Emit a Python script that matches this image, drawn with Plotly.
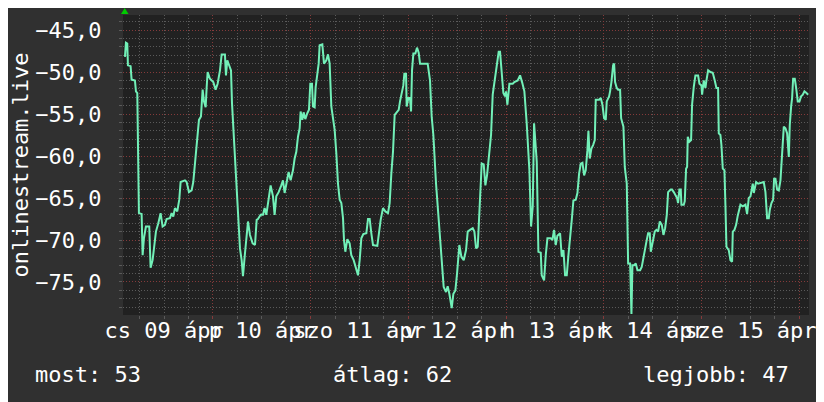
import pandas as pd
import plotly.graph_objects as go

# ---------------- data ----------------
START = pd.Timestamp("2020-04-09 00:00")

# hours after START
hours = [
    2.38, 2.62, 2.95, 3.11, 3.77, 4.01, 4.83, 5.08, 5.41, 5.57, 5.81, 6.47, 6.72, 7.04, 7.53, 8.35,
    8.68, 9.17, 9.58, 9.99, 10.57, 11.14, 11.63, 12.20, 12.61, 13.43, 13.84, 14.25, 14.66, 15.23,
    15.72, 16.05, 17.12, 17.53, 18.10, 18.75, 19.16, 19.57, 19.98, 20.56, 21.05, 21.46, 21.79,
    22.20, 22.44, 22.69, 23.26, 24.08, 24.65, 25.14, 25.72, 26.13, 26.94, 27.19, 27.52, 28.02,
    28.43, 28.67, 29.16, 29.65, 30.22, 30.63, 31.04, 31.37, 31.78, 32.11, 32.60, 33.09, 33.74,
    34.32, 34.73,
    35.05, 35.71, 36.28, 36.69, 37.10, 37.51, 38.16, 38.74, 39.14, 39.55, 40.13, 40.78, 41.19,
    41.60, 42.01, 42.58, 43.08, 43.65, 44.06, 44.47, 44.88, 45.29, 45.53, 45.94, 46.27, 46.68,
    47.17, 47.58, 47.91, 48.32, 48.56, 48.97, 49.22, 49.63, 49.96, 50.20, 50.86, 51.27, 51.84,
    52.25, 52.66, 53.07, 53.48, 53.89, 54.30, 54.71, 55.12, 55.53, 55.94, 56.18, 56.51, 57.00,
    57.57, 57.98, 58.56, 59.05, 59.62, 60.03, 60.44, 60.93, 61.67, 62.08, 62.49, 62.90, 63.31,
    64.37, 64.70, 65.19, 65.76, 66.34, 66.99, 67.40, 67.81, 68.22, 68.63,
    69.62, 69.94, 70.43, 70.76, 71.01, 71.42, 71.58, 71.99, 72.40, 72.65, 72.89, 73.22, 73.71,
    74.12, 74.53, 74.86, 76.74, 77.31, 77.72, 78.13, 78.79, 79.28, 79.77, 80.26, 80.67, 81.24,
    81.65, 82.06, 82.64, 83.05, 83.54, 83.95, 84.52, 85.01, 85.59, 86.16, 86.57, 87.14, 87.80,
    88.21, 88.62, 89.03, 89.60, 90.01, 90.50, 90.91, 91.32, 91.73, 92.30, 92.71, 93.12, 93.53,
    94.18, 94.51, 95.00, 95.33, 95.74, 95.99, 96.32, 96.81, 97.63, 98.03, 98.85, 99.43, 99.92,
    100.49, 101.06, 101.72, 102.13, 102.54,
    102.87, 103.53, 103.93, 104.51, 104.75, 105.33, 105.74, 106.15, 106.96, 107.37, 107.78,
    108.19, 108.60, 109.26, 109.67, 110.08, 110.49, 110.90, 111.31, 111.72, 112.13, 112.53,
    113.11, 113.52, 113.93, 114.34, 114.75, 115.16, 115.56, 115.97, 116.22, 116.55, 116.96,
    117.37, 117.78, 118.02, 118.84, 119.25, 119.66, 120.07, 120.48, 120.72, 121.30, 121.54,
    121.87, 122.28, 122.53, 122.77, 123.18, 123.51, 124.00, 124.25, 124.82, 125.15, 125.64,
    125.97, 126.46, 126.79, 127.03, 127.44, 127.85, 128.26, 128.91, 129.32, 129.73, 130.06,
    130.47, 130.88, 131.29, 131.54, 131.95, 132.52, 132.93, 133.34, 133.75, 134.24, 134.65,
    135.06, 135.47, 135.79, 136.45,
    136.77, 137.18, 137.59, 138.00, 138.24, 138.57, 138.90, 139.06, 139.64, 139.88, 140.21,
    140.46, 140.62, 141.03, 141.44, 141.68, 142.09, 142.50, 143.16, 143.49, 143.98, 144.14,
    144.55, 144.96, 145.21, 145.62, 146.19, 146.76, 147.25, 147.66, 148.07, 148.24, 148.64,
    148.89, 149.22, 149.63, 149.87, 150.12, 150.69, 151.10, 151.51, 151.68, 152.09, 152.50,
    152.90, 153.56, 154.13, 154.79, 155.20, 155.61, 156.02, 156.26, 156.59, 156.84, 157.08,
    157.41, 157.90, 158.47, 158.88, 159.29, 159.70, 160.11, 160.52, 160.77, 161.18, 161.59,
    161.83, 162.16, 162.57, 162.98, 163.39, 163.80, 164.21, 164.62, 165.03, 165.44, 165.68,
    166.01, 166.25, 166.50, 166.91, 167.24, 167.64, 168.05, 168.46, 168.87, 169.28, 169.78,
    170.19,
]

values = [
    -48.2, -46.5, -46.6, -49.2, -49.3, -50.9, -51.0, -52.3, -52.5, -58.7, -66.8, -66.9, -71.8, -69.8, -68.4, -68.4,
    -73.3, -72.4, -70.8, -69.0, -68.0, -66.8, -68.4, -68.2, -67.5, -67.4, -66.8, -67.2, -66.2, -66.6,
    -65.2, -63.1, -62.9, -63.1, -64.3, -64.1, -63.1, -60.7, -58.5, -55.7, -55.3, -52.1, -53.5,
    -54.2, -51.9, -50.0, -50.8, -51.2, -52.1, -51.4, -49.8, -47.9, -47.9, -50.4, -48.6, -49.4,
    -49.8, -53.7, -58.3, -63.3, -67.8, -71.0, -72.4, -74.3, -72.0, -70.0, -67.8, -69.4, -70.4,
    -70.6, -67.6,
    -67.5, -67.0, -67.0, -66.2, -67.0, -65.4, -63.5, -64.8, -67.0, -64.8, -64.3, -63.5, -62.9,
    -64.4, -63.5, -61.9, -62.9, -61.7, -60.3, -59.5, -57.7, -56.7, -54.7, -55.7, -54.8, -55.6,
    -54.9, -54.5, -51.4, -51.4, -54.1, -54.2, -51.8, -50.4, -49.0, -46.8, -46.7, -49.0, -48.6,
    -47.9, -49.0, -54.1, -55.3, -56.9, -59.7, -63.3, -65.2, -65.6, -67.4, -70.0, -71.4, -69.9,
    -70.4, -71.8, -72.4, -73.2, -74.2, -72.4, -69.8, -69.3, -69.2, -67.5, -67.5, -69.2, -70.6,
    -70.7, -69.4, -67.6, -66.2, -66.6, -66.8, -65.6, -62.1, -59.5, -55.1,
    -54.5, -53.5, -52.5, -51.6, -50.2, -50.2, -54.1, -53.1, -53.1, -54.7, -49.8, -47.8, -47.8,
    -47.1, -47.7, -49.0, -49.0, -51.0, -55.3, -57.5, -63.3, -66.6, -70.2, -73.6, -75.6, -76.2,
    -75.5, -76.4, -78.1, -76.4, -76.0, -74.0, -70.6, -72.0, -72.4, -71.2, -69.0, -68.8, -68.6,
    -69.0, -71.0, -70.8, -64.4, -60.9, -61.0, -63.5, -62.3, -60.5, -57.5, -52.7, -51.2, -49.8,
    -47.6, -47.6, -50.6, -52.5, -52.9, -52.3, -53.9, -51.4, -51.4, -51.2, -51.0, -50.4, -51.2,
    -52.3, -56.1, -61.7, -68.4, -66.0,
    -56.1, -60.7, -71.4, -71.5, -74.2, -74.8, -71.8, -69.8, -69.8, -70.0, -68.8,
    -70.6, -69.5, -69.2, -72.0, -71.2, -74.2, -74.2, -71.8, -69.2, -67.6, -65.3,
    -65.2, -64.4, -62.1, -60.9, -60.8, -62.3, -61.7, -59.3, -57.0, -60.3, -59.1,
    -58.7, -58.1, -53.3, -53.3, -53.1, -53.9, -55.5, -55.7, -53.5, -52.9, -52.3,
    -51.2, -49.2, -49.0, -51.2, -51.9, -52.1, -52.1, -55.5, -56.5, -61.3, -63.3,
    -72.8, -72.8, -78.8, -73.0, -73.0, -72.8, -73.6, -73.6, -73.2, -72.0, -71.0,
    -70.2, -69.2, -69.2, -71.4, -70.4, -69.0, -68.8, -69.0, -67.8, -68.2, -69.4,
    -68.6, -67.0, -64.3, -64.0,
    -64.0, -64.3, -64.6, -65.0, -65.6, -64.0, -64.0, -65.8, -65.8, -65.4, -61.5,
    -61.3, -57.7, -58.3, -58.1, -53.9, -51.8, -50.4, -50.4, -51.4, -51.6, -52.7,
    -51.0, -51.9, -51.0, -49.8, -50.0, -50.1, -51.0, -51.9, -51.9, -57.3, -57.5,
    -58.7, -61.5, -61.7, -65.8, -70.8, -71.2, -72.4, -72.6, -69.0, -68.8, -68.2,
    -67.1, -65.8, -66.0, -65.8, -66.9, -65.0, -64.8, -64.3, -63.3, -64.4, -63.7,
    -63.1, -63.3, -63.2, -63.1, -63.1, -64.3, -67.4, -67.4, -66.4, -65.6, -65.2,
    -62.7, -62.7, -64.0, -64.1, -62.9, -59.9, -56.5, -56.7, -57.3, -60.1, -56.3,
    -54.1, -53.1, -50.8, -50.8, -51.9, -53.5, -53.5, -52.9, -52.7, -52.3, -52.5,
    -52.7,
]

day_labels = ["cs 09 ápr", "p 10 ápr", "szo 11 ápr", "v 12 ápr", "h 13 ápr", "k 14 ápr", "sze 15 ápr"]
series_name = "onlinestream.live"
now_text = "most: 53"
avg_text = "átlag: 62"
best_text = "legjobb: 47"

# ---------------- styling ----------------
BG = "#303030"
PLOT_BG = "#212121"
LINE = "#72f0b8"
GRID_GRAY = "#5a5a5a"
GRID_RED = "#843a3a"
FONT = "DejaVu Sans Mono"
FS = 22

times = START + pd.to_timedelta(hours, unit="h")
x_range = [START + pd.Timedelta(hours=1.9), START + pd.Timedelta(hours=170.4)]
midnights = [START + pd.Timedelta(days=d) for d in range(1, 8)]
noons = [START + pd.Timedelta(days=d, hours=12) for d in range(len(day_labels))]

fig = go.Figure()
fig.add_trace(go.Scatter(x=times, y=values, mode="lines",
                         line=dict(color=LINE, width=2), hoverinfo="skip"))
fig.add_trace(go.Scatter(x=noons, y=[None] * len(noons), xaxis="x2", mode="lines",
                         hoverinfo="skip", showlegend=False))

# the page body adds an 8px margin, so the figure is 8px smaller and shifted margins
fig.update_layout(
    width=816, height=394,
    margin=dict(l=115, r=15, t=7, b=87, autoexpand=False),
    paper_bgcolor=BG, plot_bgcolor=PLOT_BG,
    separators=", ",
    showlegend=False,
    font=dict(family=FONT, color="white", size=FS),
    xaxis=dict(
        type="date", range=x_range, automargin=False,
        tickmode="array", tickvals=midnights, showticklabels=False,
        showgrid=True, gridcolor=GRID_RED, griddash="1px,2px", gridwidth=1,
        ticks="outside", ticklen=3, tickcolor=GRID_RED,
        minor=dict(dtick=6 * 3600 * 1000, tick0=START, showgrid=True,
                   gridcolor=GRID_GRAY, griddash="1px,2px", gridwidth=1,
                   ticks="outside", ticklen=3, tickcolor=GRID_GRAY),
        zeroline=False, showline=False,
    ),
    xaxis2=dict(
        type="date", range=x_range, overlaying="x", anchor="y", side="bottom",
        automargin=False,
        tickmode="array", tickvals=noons, ticktext=day_labels, tickangle=0,
        showgrid=False, ticks="", zeroline=False, showline=False,
        tickfont=dict(family=FONT, size=FS, color="white"),
    ),
    yaxis=dict(
        range=[-78.93, -43.21], tick0=-45, dtick=5, tickformat=".1f", automargin=False,
        showgrid=True, gridcolor=GRID_RED, griddash="1px,2px", gridwidth=1,
        ticks="outside", ticklen=3, tickcolor=GRID_GRAY,
        minor=dict(dtick=1, showgrid=True, gridcolor=GRID_GRAY, griddash="1px,2px",
                   gridwidth=1, ticks="outside", ticklen=3, tickcolor=GRID_GRAY),
        zeroline=False, showline=False,
        tickfont=dict(family=FONT, size=FS, color="white"),
        ticklabelstandoff=13,
        title=dict(text=series_name, font=dict(family=FONT, size=FS, color="white"), standoff=27),
    ),
    annotations=[
        dict(text=now_text, xref="paper", yref="paper", x=-0.1312, y=-0.1967,
             xanchor="left", yanchor="middle", showarrow=False,
             font=dict(family=FONT, size=FS, color="white")),
        dict(text=avg_text, xref="paper", yref="paper", x=0.3929, y=-0.1967,
             xanchor="center", yanchor="middle", showarrow=False,
             font=dict(family=FONT, size=FS, color="white")),
        dict(text=best_text, xref="paper", yref="paper", x=0.9738, y=-0.1967,
             xanchor="right", yanchor="middle", showarrow=False,
             font=dict(family=FONT, size=FS, color="white")),
    ],
    shapes=[
        dict(type="path", xref="paper", yref="paper",
             path="M 0.0025,1.0233 L -0.0029,1.0033 L 0.0080,1.0033 Z",
             fillcolor="#00cc00", line=dict(width=0)),
        dict(type="path", xref="paper", yref="paper",
             path="M 1.0102,0.0117 L 1.0102,-0.0117 L 1.0197,0 Z",
             fillcolor="#00cc00", line=dict(width=0)),
    ],
)

fig.write_html("out.html")
